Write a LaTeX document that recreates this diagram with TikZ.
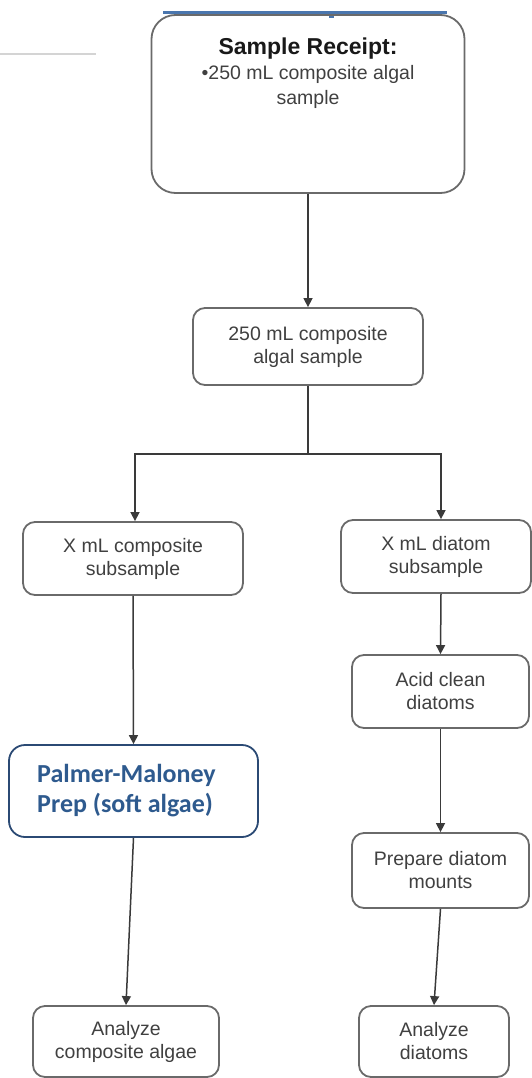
\documentclass[tikz,border=0pt]{standalone}
\usepackage{fontspec}
\setmainfont{Liberation Sans}
\newfontfamily\carl{Carlito}
\usetikzlibrary{arrows.meta,calc}
\definecolor{txtgray}{HTML}{404040}
\definecolor{boxgray}{HTML}{6A6A6A}
\definecolor{linegray}{HTML}{3A3A3A}
\definecolor{pmblue}{HTML}{2E5A8E}
\definecolor{pmborder}{HTML}{2B4A74}
\definecolor{topblue}{HTML}{4A76AE}
\definecolor{faintgray}{HTML}{D4D4D4}
\tikzset{
  flowbox/.style={draw=boxgray, line width=1.8pt, rounded corners=12pt, inner sep=0pt,
    align=center, text=txtgray, font=\fontsize{19.5}{23}\selectfont},
  conn/.style={draw=linegray, line width=1.5pt, -{Triangle[length=9pt,width=9pt]}},
  plainline/.style={draw=linegray, line width=1.5pt},
}
\begin{document}
\begin{tikzpicture}[x=1pt,y=-1pt]
\useasboundingbox (0,0) rectangle (531,1078);
% decorations at top
\draw[faintgray, line width=1.5pt] (0,54) -- (96,54);
\draw[topblue, line width=3pt] (163,13) -- (447,13);
\fill[topblue] (328.5,13) rectangle (333.5,18);

% nodes
\node[flowbox, rounded corners=24pt, minimum width=313pt, minimum height=178pt] (receipt) at (308,104) {};
\node[inner sep=0pt, align=center, text=txtgray, font=\fontsize{19.5}{25}\selectfont] (receipttext) at (308,73)
  {{\bfseries\color{black!90}\fontsize{23}{27}\selectfont Sample Receipt:}\\•250 mL composite algal\\sample};
\node[flowbox, minimum width=230pt, minimum height=77pt] (b2) at (308,346.5) {250 mL composite\\algal sample};
\node[flowbox, minimum width=220pt, minimum height=73pt] (lb) at (133,558.5) {X mL composite\\subsample};
\node[flowbox, minimum width=190pt, minimum height=73pt] (rb) at (436,556.5) {X mL diatom\\subsample};
\node[flowbox, minimum width=177pt, minimum height=73pt] (acid) at (440.5,691.5) {Acid clean\\diatoms};
\node[flowbox, minimum width=177pt, minimum height=75pt] (prep) at (440.5,870.5) {Prepare diatom\\mounts};
\node[flowbox, draw=pmborder, rounded corners=16pt, minimum width=249pt, minimum height=92pt,
  text=pmblue, align=left, font=\carl\bfseries\fontsize{26}{30}\selectfont] (pm) at (133.5,791)
  {Palmer-Maloney\hspace*{14pt}\\Prep (soft algae)};
\node[flowbox, minimum width=186pt, minimum height=71pt] (ac) at (126,1041.5) {Analyze\\composite algae};
\node[flowbox, minimum width=150pt, minimum height=71pt] (ad) at (434,1041.5) {Analyze\\diatoms};

% connectors
\draw[conn] (receipt.south) -- (b2.north);
\draw[plainline] (b2.south) -- ++(0,68) coordinate (split);
\draw[conn] (split) -| ([xshift=2pt]lb.north);
\draw[conn] (split) -| ([xshift=5pt]rb.north);
\draw[conn] (lb.south) -- (pm.north);
\draw[conn] (pm.south) -- (ac.north);
\draw[conn] ([xshift=5pt]rb.south) -- (acid.north);
\draw[conn] (acid.south) -- (prep.north);
\draw[conn] (prep.south) -- (ad.north);
\end{tikzpicture}
\end{document}
